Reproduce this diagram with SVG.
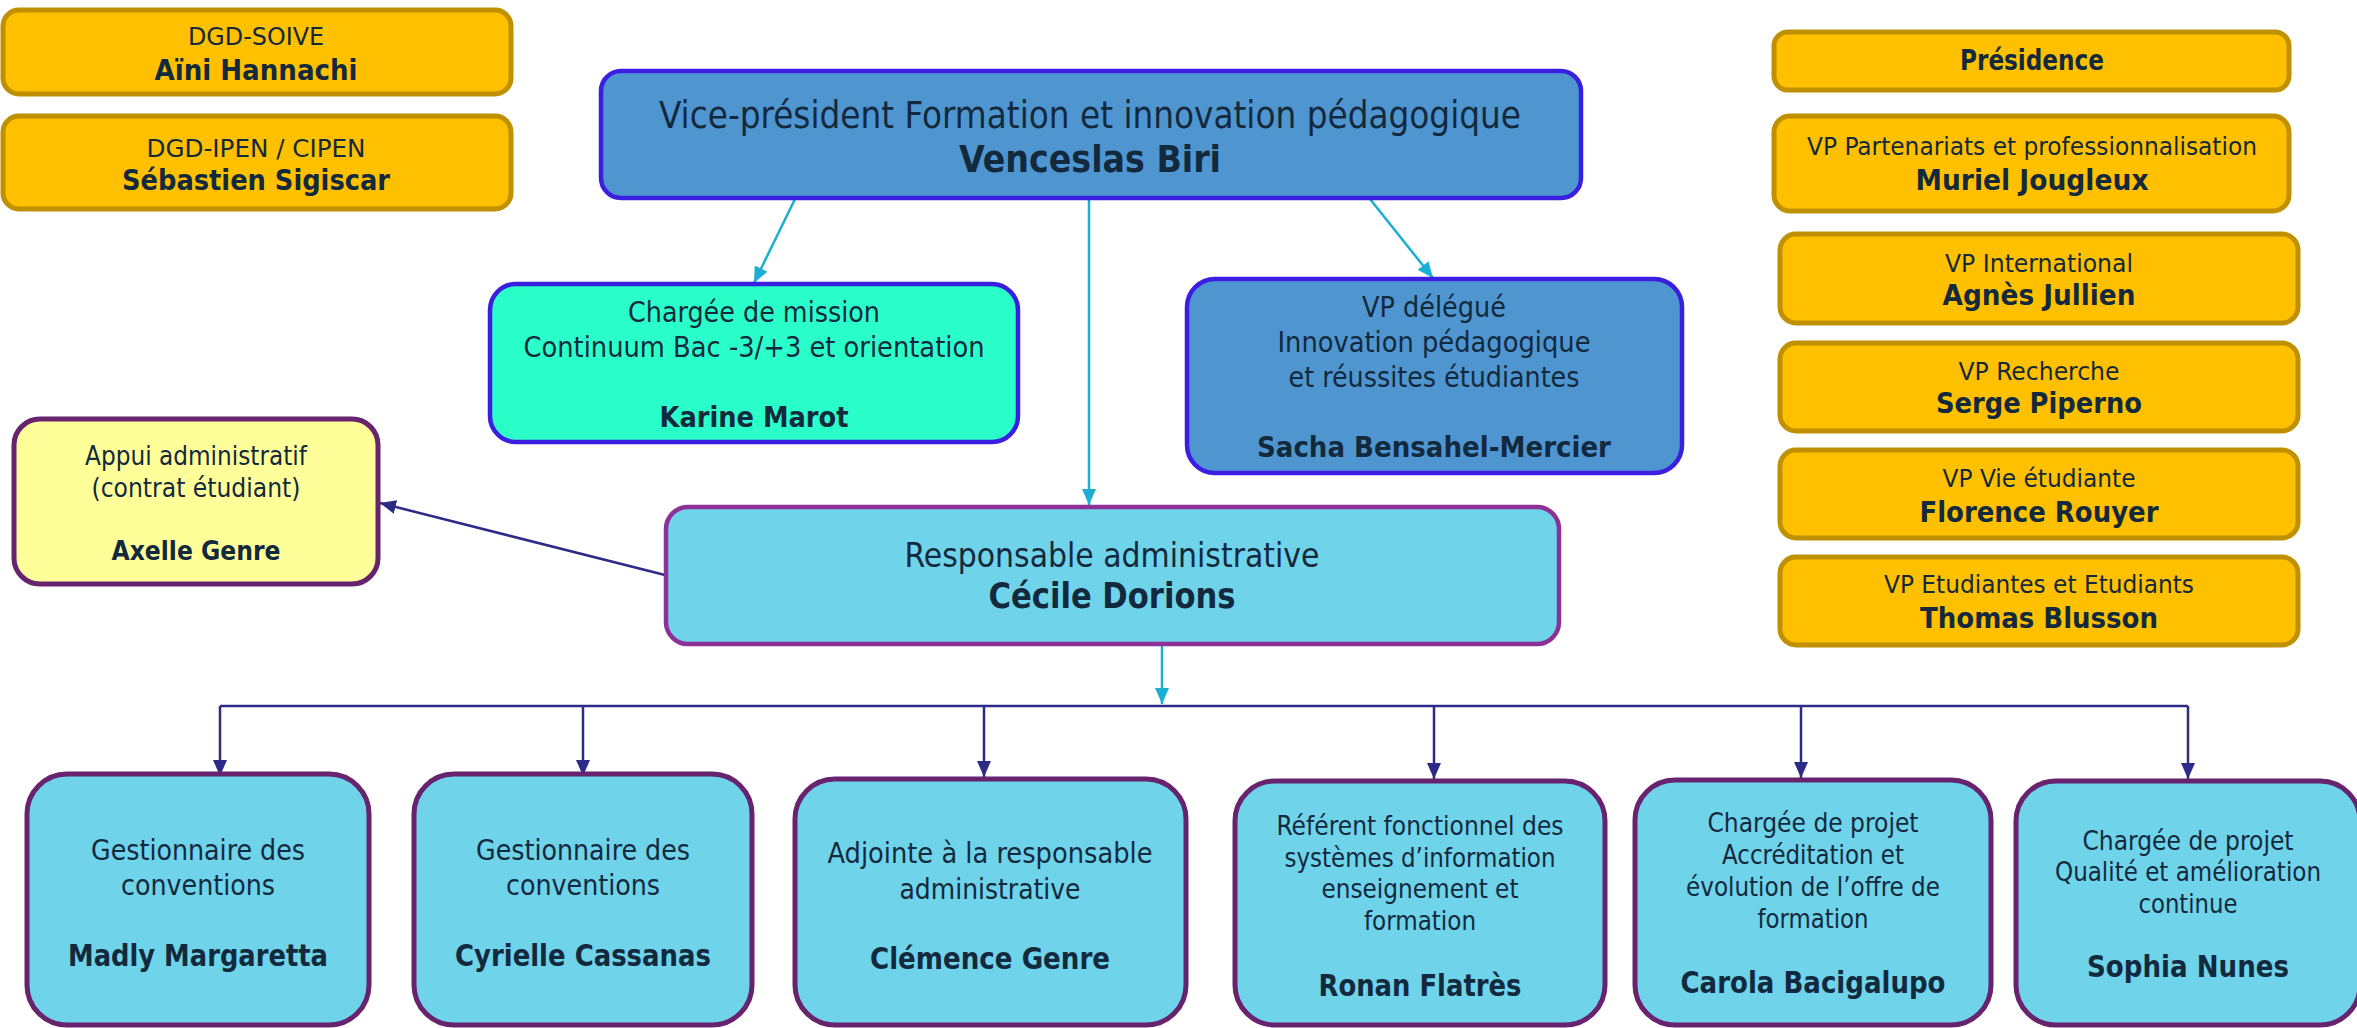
<svg xmlns="http://www.w3.org/2000/svg" width="2357" height="1028" viewBox="0 0 2357 1028">
<defs>
<style>
.t{font-family:"DejaVu Sans Condensed","DejaVu Sans",sans-serif;fill:#13293D;text-anchor:middle}
.b{font-weight:bold}
.gold{fill:#FFC000;stroke:#BF9000;stroke-width:5}
.vp{fill:#4F96D0;stroke:#3A1FE0;stroke-width:4.5}
.mint{fill:#2BFFC9;stroke:#3A1FE0;stroke-width:4.5}
.resp{fill:#6FD3EA;stroke:#8E3197;stroke-width:4.5}
.cy{fill:#6FD3EA;stroke:#68236E;stroke-width:5}
.yel{fill:#FFFF99;stroke:#68236E;stroke-width:5}
.c1{stroke:#1AAFD3;stroke-width:2.5;fill:none}
.c2{stroke:#2E2A87;stroke-width:2.5;fill:none}
</style>
<marker id="ac" viewBox="0 0 16 14" refX="16" refY="7" markerWidth="16" markerHeight="14" markerUnits="userSpaceOnUse" orient="auto"><path d="M0,0L16,7L0,14z" fill="#1AAFD3"/></marker>
<marker id="an" viewBox="0 0 16 14" refX="16" refY="7" markerWidth="16" markerHeight="14" markerUnits="userSpaceOnUse" orient="auto"><path d="M0,0L16,7L0,14z" fill="#2E2A87"/></marker>
</defs>
<rect width="2357" height="1028" fill="#FFFFFF"/>

<g id="connectors">
<path class="c1" d="M795,199L754,283" marker-end="url(#ac)"/>
<path class="c1" d="M1089,199L1089,505" marker-end="url(#ac)"/>
<path class="c1" d="M1370,199L1433,278" marker-end="url(#ac)"/>
<path class="c1" d="M1162,645L1162,704" marker-end="url(#ac)"/>
<path class="c2" d="M665,575L380,503" marker-end="url(#an)"/>
<path class="c2" d="M220,706L2188,706"/>
<path class="c2" d="M220,706V776" marker-end="url(#an)"/>
<path class="c2" d="M583,706V776" marker-end="url(#an)"/>
<path class="c2" d="M984,706V777" marker-end="url(#an)"/>
<path class="c2" d="M1434,706V779" marker-end="url(#an)"/>
<path class="c2" d="M1801,706V778" marker-end="url(#an)"/>
<path class="c2" d="M2188,706V779" marker-end="url(#an)"/>
</g>

<g id="dgd-soive">
<rect class="gold" x="3" y="10" width="508" height="84" rx="16"/>
<text class="t" x="256" y="45" font-size="25" textLength="136" lengthAdjust="spacingAndGlyphs">DGD-SOIVE</text>
<text class="t b" x="256" y="80" font-size="28" textLength="203" lengthAdjust="spacingAndGlyphs">Aïni Hannachi</text>
</g>
<g id="dgd-ipen">
<rect class="gold" x="3" y="116" width="508" height="93" rx="16"/>
<text class="t" x="256" y="157" font-size="25" textLength="219" lengthAdjust="spacingAndGlyphs">DGD-IPEN / CIPEN</text>
<text class="t b" x="256" y="190" font-size="28" textLength="268" lengthAdjust="spacingAndGlyphs">Sébastien Sigiscar</text>
</g>

<g id="presidence">
<rect class="gold" x="1774" y="32" width="515" height="58" rx="14"/>
<text class="t b" x="2032" y="70" font-size="28" textLength="144" lengthAdjust="spacingAndGlyphs">Présidence</text>
</g>
<g id="vp-partenariats">
<rect class="gold" x="1774" y="116" width="515" height="95" rx="16"/>
<text class="t" x="2032" y="155" font-size="25" textLength="450" lengthAdjust="spacingAndGlyphs">VP Partenariats et professionnalisation</text>
<text class="t b" x="2032" y="190" font-size="28" textLength="233" lengthAdjust="spacingAndGlyphs">Muriel Jougleux</text>
</g>
<g id="vp-international">
<rect class="gold" x="1780" y="234" width="518" height="89" rx="16"/>
<text class="t" x="2039" y="272" font-size="25" textLength="188" lengthAdjust="spacingAndGlyphs">VP International</text>
<text class="t b" x="2039" y="305" font-size="28" textLength="193" lengthAdjust="spacingAndGlyphs">Agnès Jullien</text>
</g>
<g id="vp-recherche">
<rect class="gold" x="1780" y="343" width="518" height="88" rx="16"/>
<text class="t" x="2039" y="380" font-size="25" textLength="161" lengthAdjust="spacingAndGlyphs">VP Recherche</text>
<text class="t b" x="2039" y="413" font-size="28" textLength="206" lengthAdjust="spacingAndGlyphs">Serge Piperno</text>
</g>
<g id="vp-vie-etudiante">
<rect class="gold" x="1780" y="450" width="518" height="88" rx="16"/>
<text class="t" x="2039" y="487" font-size="25" textLength="193" lengthAdjust="spacingAndGlyphs">VP Vie étudiante</text>
<text class="t b" x="2039" y="522" font-size="28" textLength="239" lengthAdjust="spacingAndGlyphs">Florence Rouyer</text>
</g>
<g id="vp-etudiants">
<rect class="gold" x="1780" y="557" width="518" height="88" rx="16"/>
<text class="t" x="2039" y="593" font-size="25" textLength="310" lengthAdjust="spacingAndGlyphs">VP Etudiantes et Etudiants</text>
<text class="t b" x="2039" y="628" font-size="28" textLength="238" lengthAdjust="spacingAndGlyphs">Thomas Blusson</text>
</g>

<g id="vp-formation">
<rect class="vp" x="601" y="71" width="980" height="127" rx="20"/>
<text class="t" x="1090" y="128" font-size="37" textLength="862" lengthAdjust="spacingAndGlyphs">Vice-président Formation et innovation pédagogique</text>
<text class="t b" x="1090" y="172" font-size="38" textLength="262" lengthAdjust="spacingAndGlyphs">Venceslas Biri</text>
</g>

<g id="charge-mission">
<rect class="mint" x="490" y="284" width="528" height="158" rx="26"/>
<text class="t" x="754" y="322" font-size="28" textLength="252" lengthAdjust="spacingAndGlyphs">Chargée de mission</text>
<text class="t" x="754" y="357" font-size="28" textLength="461" lengthAdjust="spacingAndGlyphs">Continuum Bac -3/+3 et orientation</text>
<text class="t b" x="754" y="427" font-size="29" textLength="189" lengthAdjust="spacingAndGlyphs">Karine Marot</text>
</g>

<g id="vp-delegue">
<rect class="vp" x="1187" y="279" width="495" height="194" rx="28"/>
<text class="t" x="1434" y="317" font-size="28" textLength="144" lengthAdjust="spacingAndGlyphs">VP délégué</text>
<text class="t" x="1434" y="352" font-size="28" textLength="313" lengthAdjust="spacingAndGlyphs">Innovation pédagogique</text>
<text class="t" x="1434" y="387" font-size="28" textLength="291" lengthAdjust="spacingAndGlyphs">et réussites étudiantes</text>
<text class="t b" x="1434" y="457" font-size="29" textLength="354" lengthAdjust="spacingAndGlyphs">Sacha Bensahel-Mercier</text>
</g>

<g id="appui-administratif">
<rect class="yel" x="14" y="419" width="364" height="165" rx="26"/>
<text class="t" x="196" y="465" font-size="26" textLength="222" lengthAdjust="spacingAndGlyphs">Appui administratif</text>
<text class="t" x="196" y="497" font-size="26" textLength="209" lengthAdjust="spacingAndGlyphs">(contrat étudiant)</text>
<text class="t b" x="196" y="560" font-size="27" textLength="169" lengthAdjust="spacingAndGlyphs">Axelle Genre</text>
</g>

<g id="responsable-administrative">
<rect class="resp" x="666" y="507" width="893" height="137" rx="22"/>
<text class="t" x="1112" y="567" font-size="33" textLength="415" lengthAdjust="spacingAndGlyphs">Responsable administrative</text>
<text class="t b" x="1112" y="608" font-size="35" textLength="247" lengthAdjust="spacingAndGlyphs">Cécile Dorions</text>
</g>

<g id="gestionnaire-1">
<rect class="cy" x="27" y="774" width="342" height="251" rx="40"/>
<text class="t" x="198" y="860" font-size="28" textLength="214" lengthAdjust="spacingAndGlyphs">Gestionnaire des</text>
<text class="t" x="198" y="895" font-size="28" textLength="154" lengthAdjust="spacingAndGlyphs">conventions</text>
<text class="t b" x="198" y="966" font-size="30" textLength="260" lengthAdjust="spacingAndGlyphs">Madly Margaretta</text>
</g>
<g id="gestionnaire-2">
<rect class="cy" x="414" y="774" width="338" height="251" rx="40"/>
<text class="t" x="583" y="860" font-size="28" textLength="214" lengthAdjust="spacingAndGlyphs">Gestionnaire des</text>
<text class="t" x="583" y="895" font-size="28" textLength="154" lengthAdjust="spacingAndGlyphs">conventions</text>
<text class="t b" x="583" y="966" font-size="30" textLength="256" lengthAdjust="spacingAndGlyphs">Cyrielle Cassanas</text>
</g>
<g id="adjointe">
<rect class="cy" x="795" y="779" width="391" height="246" rx="40"/>
<text class="t" x="990" y="863" font-size="28" textLength="325" lengthAdjust="spacingAndGlyphs">Adjointe à la responsable</text>
<text class="t" x="990" y="899" font-size="28" textLength="181" lengthAdjust="spacingAndGlyphs">administrative</text>
<text class="t b" x="990" y="969" font-size="30" textLength="240" lengthAdjust="spacingAndGlyphs">Clémence Genre</text>
</g>
<g id="referent">
<rect class="cy" x="1235" y="781" width="370" height="244" rx="40"/>
<text class="t" x="1420" y="835" font-size="27" textLength="287" lengthAdjust="spacingAndGlyphs">Référent fonctionnel des</text>
<text class="t" x="1420" y="867" font-size="27" textLength="271" lengthAdjust="spacingAndGlyphs">systèmes d’information</text>
<text class="t" x="1420" y="898" font-size="27" textLength="197" lengthAdjust="spacingAndGlyphs">enseignement et</text>
<text class="t" x="1420" y="930" font-size="27" textLength="112" lengthAdjust="spacingAndGlyphs">formation</text>
<text class="t b" x="1420" y="996" font-size="30" textLength="203" lengthAdjust="spacingAndGlyphs">Ronan Flatrès</text>
</g>
<g id="accreditation">
<rect class="cy" x="1635" y="780" width="356" height="245" rx="40"/>
<text class="t" x="1813" y="832" font-size="27" textLength="211" lengthAdjust="spacingAndGlyphs">Chargée de projet</text>
<text class="t" x="1813" y="864" font-size="27" textLength="182" lengthAdjust="spacingAndGlyphs">Accréditation et</text>
<text class="t" x="1813" y="896" font-size="27" textLength="254" lengthAdjust="spacingAndGlyphs">évolution de l’offre de</text>
<text class="t" x="1813" y="928" font-size="27" textLength="111" lengthAdjust="spacingAndGlyphs">formation</text>
<text class="t b" x="1813" y="993" font-size="30" textLength="265" lengthAdjust="spacingAndGlyphs">Carola Bacigalupo</text>
</g>
<g id="qualite">
<rect class="cy" x="2016" y="781" width="344" height="244" rx="40"/>
<text class="t" x="2188" y="850" font-size="27" textLength="211" lengthAdjust="spacingAndGlyphs">Chargée de projet</text>
<text class="t" x="2188" y="881" font-size="27" textLength="266" lengthAdjust="spacingAndGlyphs">Qualité et amélioration</text>
<text class="t" x="2188" y="913" font-size="27" textLength="99" lengthAdjust="spacingAndGlyphs">continue</text>
<text class="t b" x="2188" y="977" font-size="30" textLength="202" lengthAdjust="spacingAndGlyphs">Sophia Nunes</text>
</g>
</svg>
